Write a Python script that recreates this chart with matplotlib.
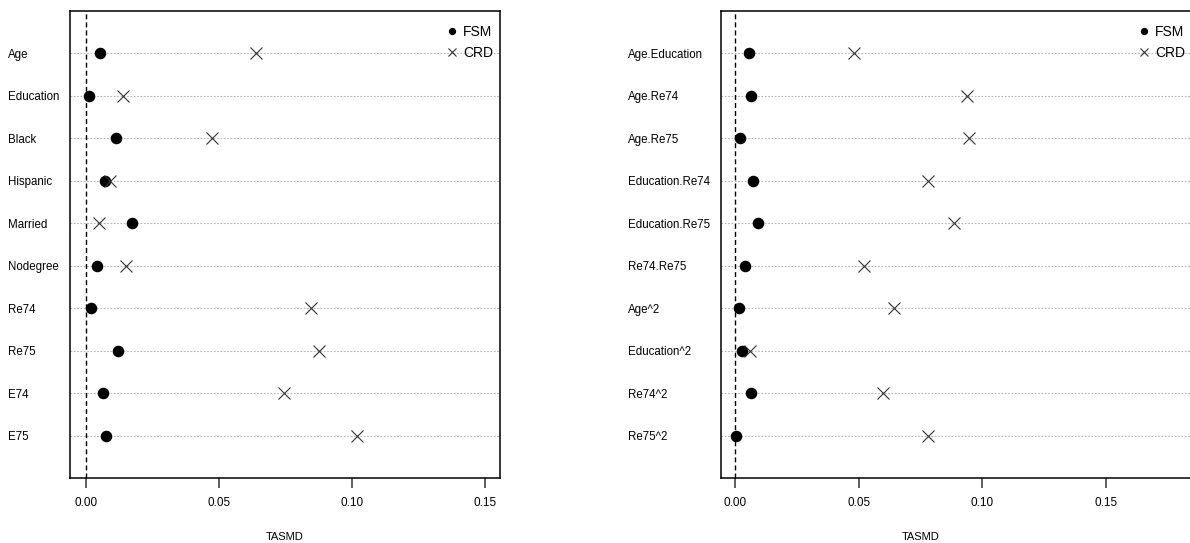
import matplotlib
matplotlib.use('Agg')
import matplotlib.pyplot as plt
from matplotlib.lines import Line2D

plt.rcParams['font.family'] = ['Liberation Sans', 'DejaVu Sans']

# left panel: main covariates
vars_left = ['Age', 'Education', 'Black', 'Hispanic', 'Married', 'Nodegree',
             'Re74', 'Re75', 'E74', 'E75']
fsm_left = [0.0053, 0.0011, 0.0113, 0.0073, 0.0172, 0.0043, 0.0018, 0.0121, 0.0065, 0.0076]
crd_left = [0.0640, 0.0140, 0.0474, 0.0090, 0.0049, 0.0152, 0.0845, 0.0877, 0.0746, 0.1019]

# right panel: interactions and squares
vars_right = ['Age.Education', 'Age.Re74', 'Age.Re75', 'Education.Re74', 'Education.Re75',
              'Re74.Re75', 'Age^2', 'Education^2', 'Re74^2', 'Re75^2']
fsm_right = [0.0057, 0.0062, 0.0018, 0.0072, 0.0092, 0.0041, 0.0016, 0.0027, 0.0062, 0.0004]
crd_right = [0.0479, 0.0938, 0.0946, 0.0780, 0.0886, 0.0521, 0.0641, 0.0059, 0.0599, 0.0779]

xticks = [0.00, 0.05, 0.10, 0.15]
xticklabels = ['0.00', '0.05', '0.10', '0.15']

W, H = 1190, 543
fig = plt.figure(figsize=(W / 100, H / 100), dpi=100)


def panel(rect, names, fsm, crd, xlim, label_pad, xlabel_x):
    ax = fig.add_axes(rect)
    rows = list(range(1, len(names) + 1))
    ax.set_ylim(len(names) + 1, 0)
    ax.set_xlim(*xlim)
    ax.set_yticks(rows)
    ax.set_yticklabels(names, fontsize=8.3, ha='left')
    ax.tick_params(axis='y', length=0, pad=label_pad)
    ax.set_xticks(xticks)
    ax.set_xticklabels(xticklabels, fontsize=8.5)
    ax.tick_params(axis='x', direction='out', length=7, width=1.1, pad=7, color='#333333')
    ax.grid(axis='y', linestyle=(0, (1.5, 1.5)), color='#b5b5b5', linewidth=0.8)
    ax.grid(axis='x', visible=False)
    ax.set_axisbelow(True)
    ax.axvline(0, color='black', linestyle=(0, (3.6, 2.2)), linewidth=1.0, zorder=1)
    ax.plot(fsm, rows, linestyle='none', marker='o', markersize=7.3,
            color='black', zorder=3)
    ax.plot(crd, rows, linestyle='none', marker='x', markersize=8.5,
            markeredgewidth=0.8, color='#333333', zorder=3)
    for s in ax.spines.values():
        s.set_linewidth(1.1)
    handles = [Line2D([], [], linestyle='none', marker='o', markersize=4.2, color='black'),
               Line2D([], [], linestyle='none', marker='x', markersize=5.5,
                      markeredgewidth=0.8, color='#333333')]
    ax.legend(handles, ['FSM', 'CRD'], loc='upper right', frameon=False, fontsize=10,
              handlelength=1.0, handletextpad=0.3, labelspacing=0.5,
              borderpad=0.2, borderaxespad=0.3,
              bbox_to_anchor=(1.0, 1 - 7 / 467))
    fig.text(xlabel_x / W, 1 - 537 / H, 'TASMD', fontsize=8, ha='center', va='center')
    return ax


bottom = (H - 478) / H
height = 467 / H
panel([70 / W, bottom, 430 / W, height], vars_left, fsm_left, crd_left,
      (-0.006, 0.1558), 62 * 0.72, 285)
panel([721 / W, bottom, 471 / W, height], vars_right, fsm_right, crd_right,
      (-0.0058, 0.185), 93 * 0.72, 920.5)

fig.savefig('out.png', dpi=100)
